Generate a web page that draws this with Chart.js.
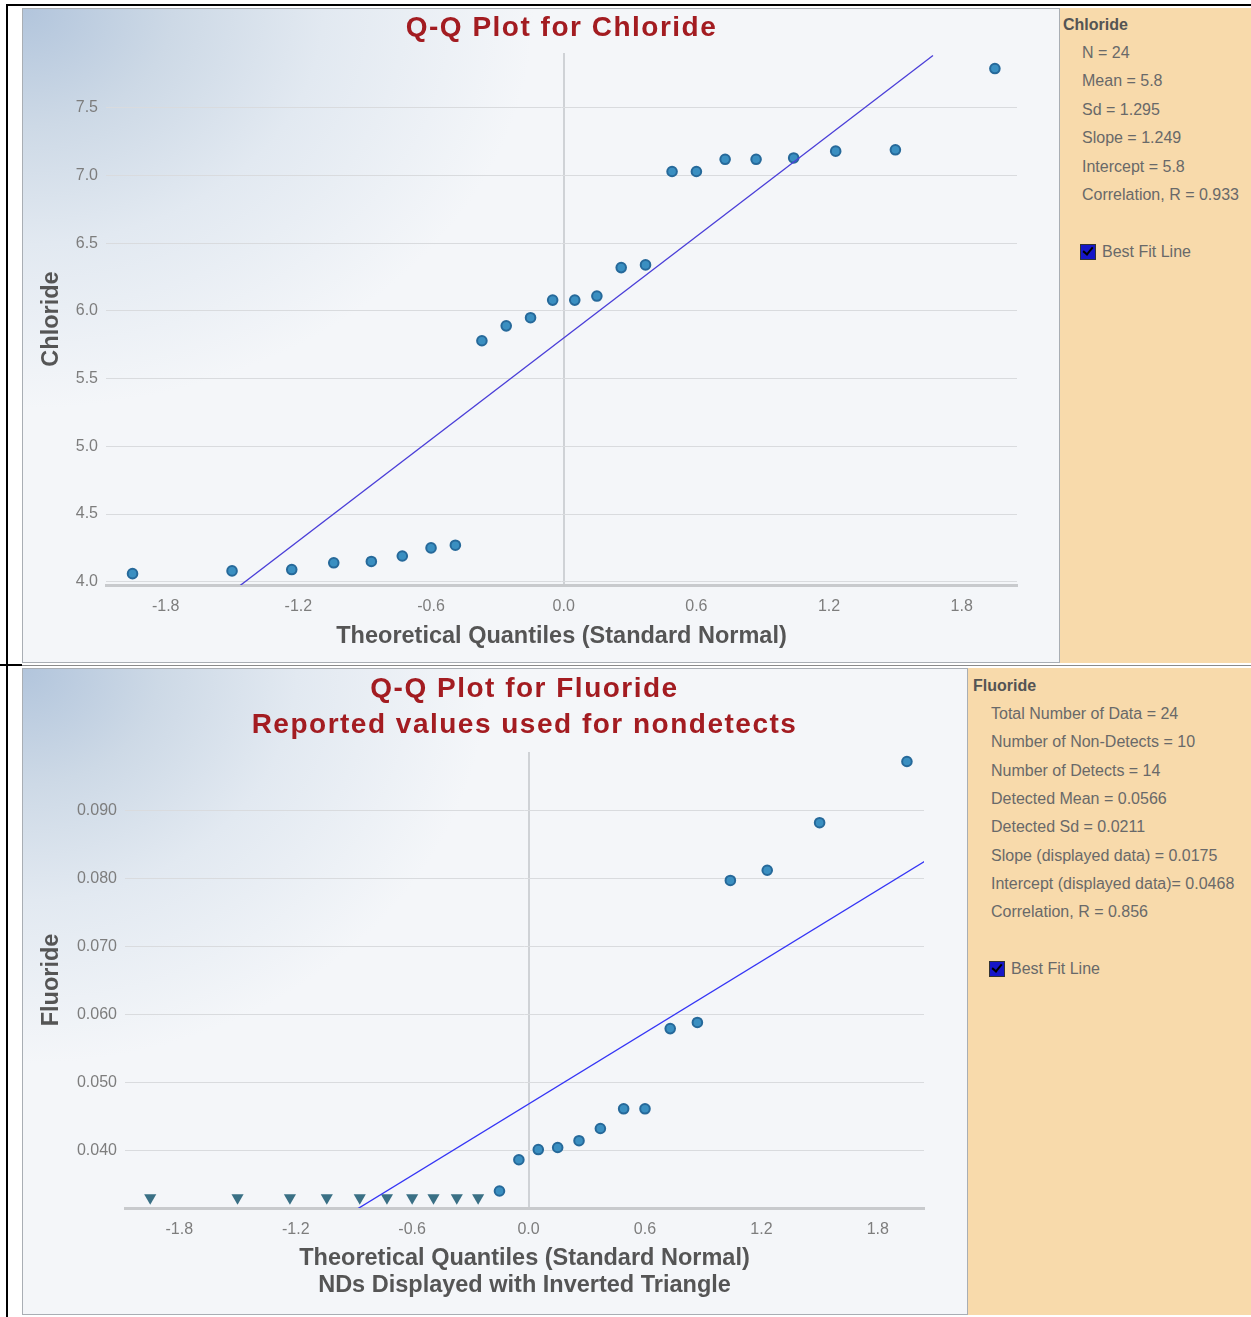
<!DOCTYPE html>
<html lang="en">
<head>
<meta charset="UTF-8">
<title>Q-Q Plots</title>
<script src="https://cdn.jsdelivr.net/npm/chart.js"></script>
<style>
  body { margin: 0; background: #fff; font-family: "Liberation Sans", Arial, sans-serif; }
  #page { position: relative; width: 1251px; height: 1317px; overflow: hidden; }
  .rule { position: absolute; background: #000; }
  .plot {
    position: absolute; box-sizing: border-box; border: 1px solid #a9aeb4;
    background:
      radial-gradient(ellipse 58% 72% at 0 0, #b2c5dc 0%, #cdd9e6 25%, #e2e9f1 50%, rgba(243,245,249,0) 85%),
      #f4f6f9;
  }
  canvas { position: absolute; }
  .stats { position: absolute; background: #f8daab; color: #696969; font-size: 16px; }
  .stats div { position: absolute; white-space: nowrap; line-height: 20px; }
  .stats .head { font-weight: bold; color: #545454; }
  .check { position: absolute; width: 14px; height: 14px; background: #1616c8; border: 1px solid #333; }
  .check::after {
    content: ''; position: absolute; left: 4px; top: 0; width: 4px; height: 8px;
    border: solid #000; border-width: 0 2px 2px 0; transform: rotate(40deg);
  }
</style>
</head>
<body>
<div id="page">
  <div class="rule" style="left:6px;top:4px;width:1245px;height:2px"></div>
  <div class="rule" style="left:6px;top:4px;width:2px;height:1313px"></div>
  <div class="rule" style="left:0;top:664px;width:22px;height:2px"></div>
  <div class="rule" style="left:22px;top:665px;width:1229px;height:1px;background:#8a8a8a"></div>

  <div class="plot" style="left:22px;top:8px;width:1038px;height:655px"></div>
  <canvas id="chlorideChart" width="1038" height="655" style="left:22px;top:8px"></canvas>
  <div class="stats" id="chlorideStats" style="left:1060px;top:8px;width:191px;height:655px"></div>

  <div class="plot" style="left:22px;top:668px;width:946px;height:647px"></div>
  <canvas id="fluorideChart" width="946" height="647" style="left:22px;top:668px"></canvas>
  <div class="stats" id="fluorideStats" style="left:968px;top:668px;width:283px;height:647px"></div>
</div>

<script>
// theoretical normal quantiles, shared by both samples (n = 24)
const quantiles = [-1.95, -1.50, -1.23, -1.04, -0.87, -0.73, -0.60, -0.49, -0.37, -0.26, -0.15, -0.05,
                   0.05, 0.15, 0.26, 0.37, 0.49, 0.60, 0.73, 0.87, 1.04, 1.23, 1.50, 1.95];

const chlorideValues = [4.06, 4.08, 4.09, 4.14, 4.15, 4.19, 4.25, 4.27, 5.78, 5.89, 5.95, 6.08,
                        6.08, 6.11, 6.32, 6.34, 7.03, 7.03, 7.12, 7.12, 7.13, 7.18, 7.19, 7.79];
const chlorideFit = { slope: 1.249, intercept: 5.8 };
const chlorideFitRange = [-1.47, 1.67];

// fluoride: first 10 are non-detects (reported values), rest detected
const fluorideNDQuantiles = quantiles.slice(0, 10);
const fluorideND = [0.033, 0.033, 0.033, 0.033, 0.033, 0.033, 0.033, 0.033, 0.033, 0.033];
const fluorideDetectQuantiles = quantiles.slice(10);
const fluorideDetects = [0.0340, 0.0386, 0.0401, 0.0404, 0.0414, 0.0432, 0.0461,
                         0.0461, 0.0579, 0.0588, 0.0797, 0.0812, 0.0882, 0.0972];
const fluorideFit = { slope: 0.0175, intercept: 0.0468 };
const fluorideFitRange = [-0.88, 2.04];

const quantileTicks = [-1.8, -1.2, -0.6, 0, 0.6, 1.2, 1.8];
const chlorideTicks = [4.0, 4.5, 5.0, 5.5, 6.0, 6.5, 7.0, 7.5];
const fluorideTicks = [0.040, 0.050, 0.060, 0.070, 0.080, 0.090];

const chlorideStats = ['N = 24', 'Mean = 5.8', 'Sd = 1.295', 'Slope = 1.249', 'Intercept = 5.8', 'Correlation, R = 0.933'];
const fluorideStats = ['Total Number of Data = 24', 'Number of Non-Detects = 10', 'Number of Detects = 14',
                       'Detected Mean = 0.0566', 'Detected Sd = 0.0211', 'Slope (displayed data) = 0.0175',
                       'Intercept (displayed data)= 0.0468', 'Correlation, R = 0.856'];

Chart.defaults.font.family = '"Liberation Sans", Arial, sans-serif';

// title centred over the plot area rather than the whole canvas
const panelTitle = {
  id: 'panelTitle',
  afterDraw(chart, args, opts) {
    const { ctx, chartArea } = chart;
    const x = (chartArea.left + chartArea.right) / 2;
    ctx.save();
    ctx.font = 'bold 28px "Liberation Sans", Arial, sans-serif';
    ctx.letterSpacing = '1.5px';
    ctx.fillStyle = '#a31c21';
    ctx.textAlign = 'center';
    ctx.textBaseline = 'middle';
    opts.lines.forEach((t, i) => ctx.fillText(t, x, opts.y[i]));
    ctx.restore();
  }
};

function fitLine(range, fit) {
  return range.map(x => ({ x: x, y: fit.slope * x + fit.intercept }));
}

function points(xs, ys) {
  return xs.map((x, i) => ({ x: x, y: ys[i] }));
}

function qqOptions(o) {
  return {
    responsive: false,
    animation: false,
    layout: { padding: { top: o.padTop, right: o.padRight, left: 0, bottom: 0 } },
    plugins: {
      legend: { display: false },
      tooltip: { enabled: false },
      panelTitle: { lines: o.title, y: o.titleY }
    },
    scales: {
      x: {
        type: 'linear', min: o.xMin, max: o.xMax,
        afterBuildTicks: s => { s.ticks = quantileTicks.map(v => ({ value: v })); },
        afterFit: s => { s.height = o.xHeight; s.paddingLeft = 0; s.paddingRight = 0; },
        grid: {
          drawTicks: false, lineWidth: 2,
          color: c => (c.tick && c.tick.value === 0) ? '#cfd2d6' : 'rgba(0,0,0,0)'
        },
        border: { display: true, color: '#c8cacd', width: 3 },
        ticks: { padding: 12, color: '#7d7d7d', font: { size: 16 }, maxRotation: 0, autoSkip: false,
                 callback: v => v.toFixed(1) },
        title: { display: true, text: o.xTitle, color: '#555', font: { size: 23.5, weight: 'bold', lineHeight: 1.15 },
                 padding: { top: 0, bottom: o.xTitlePad } }
      },
      y: {
        type: 'linear', min: o.yMin, max: o.yMax,
        afterBuildTicks: s => { s.ticks = o.yTicks.map(v => ({ value: v })); },
        afterFit: s => { s.width = o.yWidth; s.paddingTop = 0; s.paddingBottom = 0; },
        grid: { drawTicks: false, color: '#d9dbde', lineWidth: 1 },
        border: { display: false },
        ticks: { padding: 8, color: '#7d7d7d', font: { size: 16 }, callback: v => v.toFixed(o.yDigits) },
        title: { display: true, text: o.yTitle, color: '#555', font: { size: 23.5, weight: 'bold' },
                 padding: { top: 15, bottom: 0 } }
      }
    }
  };
}

const dotStyle = { pointRadius: 4.8, pointBackgroundColor: '#3a8fc1', pointBorderColor: '#26699a', pointBorderWidth: 2 };

new Chart(document.getElementById('chlorideChart'), {
  type: 'scatter',
  data: {
    datasets: [
      { data: fitLine(chlorideFitRange, chlorideFit), showLine: true, borderColor: '#4a3ed8', borderWidth: 1.3, pointRadius: 0 },
      Object.assign({ data: points(quantiles, chlorideValues) }, dotStyle)
    ]
  },
  options: qqOptions({
    padTop: 45, padRight: 43, xHeight: 78, yWidth: 84,
    xMin: -2.07, xMax: 2.05, yMin: 3.976, yMax: 7.905, yTicks: chlorideTicks, yDigits: 1,
    title: ['Q-Q Plot for Chloride'], titleY: [20],
    xTitle: 'Theoretical Quantiles (Standard Normal)', xTitlePad: 13,
    yTitle: 'Chloride'
  }),
  plugins: [panelTitle]
});

new Chart(document.getElementById('fluorideChart'), {
  type: 'scatter',
  data: {
    datasets: [
      { data: fitLine(fluorideFitRange, fluorideFit), showLine: true, borderColor: '#3535f5', borderWidth: 1.3, pointRadius: 0 },
      Object.assign({ data: points(fluorideDetectQuantiles, fluorideDetects) }, dotStyle),
      { data: points(fluorideNDQuantiles, fluorideND), pointStyle: 'triangle', rotation: 180, pointRadius: 7,
        pointBackgroundColor: '#3a7085', pointBorderColor: '#3a7085', pointBorderWidth: 0 }
    ]
  },
  options: qqOptions({
    padTop: 84, padRight: 44, xHeight: 107, yWidth: 103,
    xMin: -2.08, xMax: 2.038, yMin: 0.0315, yMax: 0.0986, yTicks: fluorideTicks, yDigits: 3,
    title: ['Q-Q Plot for Fluoride', 'Reported values used for nondetects'], titleY: [21, 57],
    xTitle: ['Theoretical Quantiles (Standard Normal)', 'NDs Displayed with Inverted Triangle'], xTitlePad: 16,
    yTitle: 'Fluoride'
  }),
  plugins: [panelTitle]
});

// statistics side panels
function fillStats(id, head, lines, g) {
  const panel = document.getElementById(id);
  const add = (cls, text, left, cy) => {
    const d = document.createElement('div');
    if (cls) d.className = cls;
    d.textContent = text;
    d.style.left = left + 'px';
    d.style.top = (cy - 10) + 'px';
    panel.appendChild(d);
  };
  add('head', head, g.headX, g.headY);
  lines.forEach((t, i) => add('', t, g.itemX, g.firstY + g.step * i));
  const box = document.createElement('span');
  box.className = 'check';
  box.style.left = g.checkX + 'px';
  box.style.top = (g.checkY - 8) + 'px';
  panel.appendChild(box);
  add('', 'Best Fit Line', g.checkX + 22, g.checkY);
}

fillStats('chlorideStats', 'Chloride', chlorideStats,
  { headX: 3, headY: 17, itemX: 22, firstY: 45, step: 28.4, checkX: 20, checkY: 244 });
fillStats('fluorideStats', 'Fluoride', fluorideStats,
  { headX: 5, headY: 18, itemX: 23, firstY: 46, step: 28.3, checkX: 21, checkY: 301 });
</script>
</body>
</html>
